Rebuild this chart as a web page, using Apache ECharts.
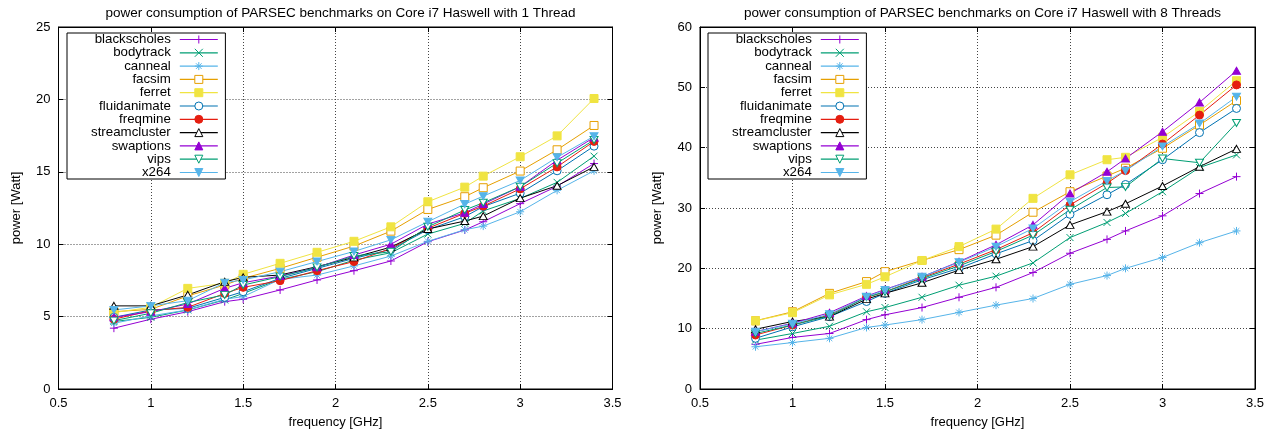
<!DOCTYPE html>
<html><head><meta charset="utf-8">
<script src="https://cdn.jsdelivr.net/npm/echarts@6/dist/echarts.min.js"></script>
<style>html,body{margin:0;padding:0;background:#fff}#c{width:1284px;height:438px}</style>
</head><body><div id="c"></div>
<script>
// ---- data ----
const freqGHz = [0.8, 1.0, 1.2, 1.4, 1.5, 1.7, 1.9, 2.1, 2.3, 2.5, 2.7, 2.8, 3.0, 3.2, 3.4];
const benchmarks = ['blackscholes','bodytrack','canneal','facsim','ferret','fluidanimate','freqmine','streamcluster','swaptions','vips','x264'];
const chartTitles = ['power consumption of PARSEC benchmarks on Core i7 Haswell with 1 Thread',
                     'power consumption of PARSEC benchmarks on Core i7 Haswell with 8 Threads'];
const xTitle = 'frequency [GHz]';
const yTitle = 'power [Watt]';

// 1 thread
const t1_blackscholes  = [4.20, 4.82, 5.34, 6.03, 6.20, 6.84, 7.53, 8.17, 8.84, 10.17, 10.98, 11.55, 12.80, 14.00, 15.57];
const t1_bodytrack     = [4.66, 4.95, 5.46, 6.15, 6.60, 7.57, 8.10, 8.90, 9.41, 10.70, 11.44, 12.30, 13.16, 14.27, 16.08];
const t1_canneal       = [4.54, 5.05, 5.46, 6.20, 6.38, 7.57, 7.87, 8.50, 9.18, 10.20, 11.00, 11.25, 12.24, 13.72, 15.07];
const t1_facsim        = [5.34, 5.50, 6.43, 7.18, 7.64, 8.33, 9.10, 9.87, 10.90, 12.40, 13.28, 13.90, 15.05, 16.52, 18.20];
const t1_ferret        = [5.28, 5.64, 6.95, 7.30, 7.92, 8.68, 9.44, 10.20, 11.20, 12.93, 13.94, 14.70, 16.04, 17.48, 20.06];
const t1_fluidanimate  = [4.95, 5.46, 5.57, 6.33, 6.72, 7.64, 8.33, 9.02, 9.64, 11.00, 11.90, 12.60, 13.52, 15.07, 16.77];
const t1_freqmine      = [4.82, 5.41, 5.64, 6.60, 7.02, 7.48, 8.17, 8.80, 9.70, 11.10, 12.13, 12.63, 13.82, 15.34, 17.10];
const t1_streamcluster = [5.74, 5.74, 6.50, 7.41, 7.71, 7.87, 8.45, 9.09, 9.80, 11.05, 11.60, 11.94, 13.18, 14.04, 15.34];
const t1_swaptions     = [4.95, 5.34, 5.87, 6.95, 7.34, 7.80, 8.40, 9.25, 10.00, 11.39, 12.17, 12.77, 13.97, 15.80, 17.37];
const t1_vips          = [4.72, 5.23, 5.97, 6.50, 7.18, 7.76, 8.40, 9.18, 9.48, 11.20, 12.36, 12.86, 13.97, 15.60, 17.20];
const t1_x264          = [5.46, 5.74, 6.10, 7.34, 7.53, 8.10, 8.80, 9.50, 10.30, 11.55, 12.77, 13.32, 14.40, 16.00, 17.46];

// 8 threads
const t8_blackscholes  = [7.4, 8.55, 9.2, 11.5, 12.3, 13.5, 15.2, 16.85, 19.3, 22.5, 24.8, 26.2, 28.7, 32.4, 35.2];
const t8_bodytrack     = [8.1, 9.2, 10.4, 12.8, 13.5, 15.2, 17.2, 18.7, 20.9, 25.1, 27.6, 29.1, 32.7, 36.7, 38.8];
const t8_canneal       = [7.0, 7.7, 8.4, 10.2, 10.6, 11.5, 12.7, 13.9, 15.0, 17.35, 18.8, 20.0, 21.8, 24.25, 26.2];
const t8_facsim        = [11.3, 12.8, 15.85, 17.8, 19.45, 21.3, 23.1, 25.5, 29.3, 32.7, 35.3, 36.6, 39.9, 43.75, 47.8];
const t8_ferret        = [11.3, 12.65, 15.6, 17.35, 18.6, 21.3, 23.6, 26.5, 31.6, 35.5, 38.0, 38.4, 41.7, 46.0, 51.1];
const t8_fluidanimate  = [8.4, 10.3, 12.0, 14.5, 15.85, 18.1, 20.0, 22.4, 24.6, 28.95, 32.2, 33.9, 38.0, 42.5, 46.5];
const t8_freqmine      = [8.95, 10.6, 12.3, 15.2, 16.1, 18.45, 20.7, 23.1, 25.9, 30.5, 34.1, 36.2, 40.6, 45.4, 50.4];
const t8_streamcluster = [9.9, 11.2, 12.0, 14.9, 15.85, 17.6, 19.7, 21.5, 23.6, 27.2, 29.4, 30.7, 33.65, 36.85, 39.8];
const t8_swaptions     = [9.5, 10.9, 12.65, 15.4, 16.5, 18.6, 21.1, 23.9, 27.2, 32.4, 36.0, 38.2, 42.65, 47.5, 52.76];
const t8_vips          = [9.2, 10.6, 12.1, 15.2, 16.1, 18.3, 20.4, 22.8, 25.5, 29.7, 33.4, 33.5, 38.2, 37.5, 44.1];
const t8_x264          = [9.5, 10.8, 12.4, 15.3, 16.4, 18.6, 21.0, 23.6, 26.6, 31.05, 34.5, 36.2, 40.2, 44.0, 48.45];

const oneThreadSeries = [t1_blackscholes, t1_bodytrack, t1_canneal, t1_facsim, t1_ferret, t1_fluidanimate,
                         t1_freqmine, t1_streamcluster, t1_swaptions, t1_vips, t1_x264];
const eightThreadSeries = [t8_blackscholes, t8_bodytrack, t8_canneal, t8_facsim, t8_ferret, t8_fluidanimate,
                           t8_freqmine, t8_streamcluster, t8_swaptions, t8_vips, t8_x264];

// ---- styles ----
const F = '"Liberation Sans", Arial, Helvetica, sans-serif';
const P_PLUS = 'path://M0,5L10,5M5,0L5,10';
const P_X = 'path://M0,0L10,10M0,10L10,0';
const P_STAR = 'path://M0,5L10,5M5,0L5,10M1.5,1.5L8.5,8.5M1.5,8.5L8.5,1.5';
const P_SQ = 'path://M0,0L10,0L10,10L0,10Z';
const P_CIRC = 'path://M0,5A5,5,0,1,1,10,5A5,5,0,1,1,0,5Z';
const P_UP = 'path://M5,0L10,9L0,9Z';
const P_DN = 'path://M0,0L10,0L5,9Z';
const seriesStyle = [
  {c:'#9400d3', sym:P_PLUS, fill:null, size:8},
  {c:'#009e73', sym:P_X, fill:null, size:7},
  {c:'#56b4e9', sym:P_STAR, fill:null, size:8},
  {c:'#e69f00', sym:P_SQ, fill:'#fff', size:8},
  {c:'#f0e442', sym:P_SQ, fill:'self', size:8},
  {c:'#0072b2', sym:P_CIRC, fill:'#fff', size:8},
  {c:'#e51e10', sym:P_CIRC, fill:'self', size:8},
  {c:'#000000', sym:P_UP, fill:'#fff', size:[8, 7]},
  {c:'#9400d3', sym:P_UP, fill:'self', size:[8, 7]},
  {c:'#009e73', sym:P_DN, fill:'#fff', size:[8, 7]},
  {c:'#56b4e9', sym:P_DN, fill:'self', size:[8, 7]}
];
function itemStyleOf(st) {
  const fill = st.fill === null ? st.c : (st.fill === 'self' ? st.c : st.fill);
  return {color: fill, borderColor: st.c, borderWidth: 1};
}

const grids = [
  {left: 58.5, top: 27, width: 554, height: 362},
  {left: 700, top: 27, width: 555, height: 362}
];
const yMax = [25, 60], yStep = [5, 10];

function xAx(gi, pos, main) {
  return {type:'value', gridIndex:gi, position:pos, min:0.5, max:3.5, interval:0.5,
    name: main ? xTitle : '', nameLocation:'middle', nameGap:27,
    nameTextStyle:{fontSize:13, color:'#000', fontFamily:F},
    axisLine:{show:true, onZero:false, lineStyle:{color:'#000', width:1}},
    axisTick:{show:true, inside:true, length:5, lineStyle:{color:'#000', width:1}},
    axisLabel:{show:main, margin:8, fontSize:13, color:'#000', fontFamily:F},
    splitLine:{show:main, lineStyle:{type:[1,2], color:'#444', width:1}}
  };
}
function yAx(gi, pos, main, ci) {
  return {type:'value', gridIndex:gi, position:pos, min:0, max:yMax[ci], interval:yStep[ci],
    name: main ? yTitle : '', nameLocation:'middle', nameGap:36,
    nameTextStyle:{fontSize:13, color:'#000', fontFamily:F},
    axisLine:{show:true, onZero:false, lineStyle:{color:'#000', width:1}},
    axisTick:{show:true, inside:true, length:5, lineStyle:{color:'#000', width:1}},
    axisLabel:{show:main, margin:8, fontSize:13, color:'#000', fontFamily:F},
    splitLine:{show:main, lineStyle:{type:[1,2], color:'#444', width:1}}
  };
}

const xAxes = [], yAxes = [], series = [], legends = [], titles = [];
[oneThreadSeries, eightThreadSeries].forEach((set, ci) => {
  xAxes.push(xAx(ci, 'bottom', true), xAx(ci, 'top', false));
  yAxes.push(yAx(ci, 'left', true, ci), yAx(ci, 'right', false, ci));
  const g = grids[ci];
  titles.push({text: chartTitles[ci], left: g.left + g.width / 2, textAlign:'center', top: 1,
    textStyle:{fontSize:13.5, fontWeight:'normal', color:'#000', fontFamily:F}});
  set.forEach((vals, i) => {
    const st = seriesStyle[i];
    series.push({
      type:'line', name: benchmarks[i], xAxisIndex: ci * 2, yAxisIndex: ci * 2,
      data: freqGHz.map((x, k) => [x, vals[k]]),
      symbol: st.sym, symbolSize: st.size, showAllSymbol: true,
      lineStyle:{color: st.c, width: 1},
      itemStyle: itemStyleOf(st),
      emphasis:{disabled:true}, animation:false
    });
  });
  legends.push({
    orient:'vertical', left: ci ? 708 : 67, top: 33, align:'right',
    itemWidth: 38, itemHeight: 10, itemGap: 0.3,
    backgroundColor:'#fff', borderColor:'#000', borderWidth:1, padding:[0, 7, 0, 24],
    textStyle:{fontSize:13.3, color:'#000', fontFamily:F, padding:[0, 4, 0, 0], lineHeight:13},
    selectedMode:false,
    data: benchmarks.map((b, i) => ({
      name: b,
      itemStyle: itemStyleOf(seriesStyle[i]),
      lineStyle: {color: seriesStyle[i].c, width: 1.2}
    }))
  });
});

const chart = echarts.init(document.getElementById('c'), null, {renderer:'canvas'});
chart.setOption({
  backgroundColor:'#fff',
  animation:false,
  title: titles,
  grid: grids.map(g => Object.assign({show:true, borderColor:'#000', borderWidth:1, backgroundColor:'transparent'}, g)),
  xAxis: xAxes,
  yAxis: yAxes,
  legend: legends,
  series: series
});
</script>
</body></html>
